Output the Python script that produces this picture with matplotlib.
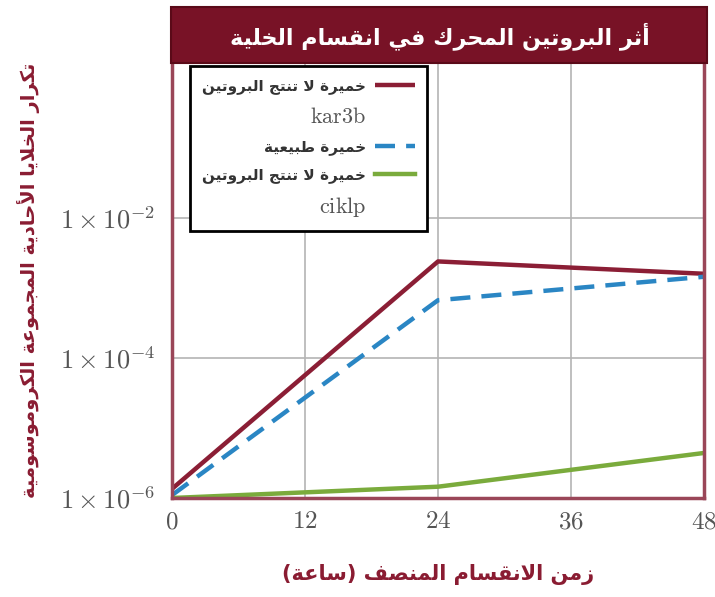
import matplotlib
matplotlib.use('Agg')
import matplotlib.pyplot as plt
from matplotlib.lines import Line2D
from matplotlib.patches import Rectangle

# Data
hours = [0, 24, 48]
kar3b = [1.35e-6, 2.4e-3, 1.6e-3]
wild_type = [1.1e-6, 6.7e-4, 1.45e-3]
cik1p = [1.0e-6, 1.45e-6, 4.4e-6]

x_ticks = [0, 12, 24, 36, 48]
y_ticks = [1e-6, 1e-4, 1e-2]
y_tick_labels = [r'$1\times10^{-6}$', r'$1\times10^{-4}$', r'$1\times10^{-2}$']

title_text = 'أثر البروتين المحرك في انقسام الخلية'
x_label = 'زمن الانقسام المنصف (ساعة)'
y_label = 'تكرار الخلايا الأحادية المجموعة الكروموسومية'
legend_labels = ['خميرة لا تنتج البروتين', 'خميرة طبيعية', 'خميرة لا تنتج البروتين']
legend_genes = ['kar3b', None, 'ciklp']

# Arabic letters -> (first presentation form, number of forms)
ARABIC = {
    'ء': (0xFE80, 1), 'آ': (0xFE81, 2), 'أ': (0xFE83, 2), 'ؤ': (0xFE85, 2),
    'إ': (0xFE87, 2), 'ئ': (0xFE89, 4), 'ا': (0xFE8D, 2), 'ب': (0xFE8F, 4),
    'ة': (0xFE93, 2), 'ت': (0xFE95, 4), 'ث': (0xFE99, 4), 'ج': (0xFE9D, 4),
    'ح': (0xFEA1, 4), 'خ': (0xFEA5, 4), 'د': (0xFEA9, 2), 'ذ': (0xFEAB, 2),
    'ر': (0xFEAD, 2), 'ز': (0xFEAF, 2), 'س': (0xFEB1, 4), 'ش': (0xFEB5, 4),
    'ص': (0xFEB9, 4), 'ض': (0xFEBD, 4), 'ط': (0xFEC1, 4), 'ظ': (0xFEC5, 4),
    'ع': (0xFEC9, 4), 'غ': (0xFECD, 4), 'ف': (0xFED1, 4), 'ق': (0xFED5, 4),
    'ك': (0xFED9, 4), 'ل': (0xFEDD, 4), 'م': (0xFEE1, 4), 'ن': (0xFEE5, 4),
    'ه': (0xFEE9, 4), 'و': (0xFEED, 2), 'ى': (0xFEEF, 2), 'ي': (0xFEF1, 4),
}
LAM_ALEF = {'ا': 0xFEFB, 'أ': 0xFEF7, 'آ': 0xFEF5, 'إ': 0xFEF9}


def shape(text):
    # matplotlib does no Arabic shaping, so pick the joined forms by hand
    # and reverse the string for left-to-right drawing
    out = []
    i = 0
    while i < len(text):
        c = text[i]
        if c not in ARABIC:
            out.append({'(': ')', ')': '('}.get(c, c))
            i += 1
            continue
        prev = text[i - 1] if i > 0 else ''
        joins_prev = prev in ARABIC and ARABIC[prev][1] == 4
        nxt = text[i + 1] if i + 1 < len(text) else ''
        if c == 'ل' and nxt in LAM_ALEF:
            out.append(chr(LAM_ALEF[nxt] + int(joins_prev)))
            i += 2
            continue
        base, n = ARABIC[c]
        joins_next = n == 4 and nxt in ARABIC
        if n == 1:
            form = 0
        elif joins_prev and joins_next:
            form = 3
        elif joins_next:
            form = 2
        elif joins_prev:
            form = 1
        else:
            form = 0
        out.append(chr(base + form))
        i += 1
    return ''.join(reversed(out))


plt.rcParams['font.family'] = ['DejaVu Sans']
plt.rcParams['mathtext.fontset'] = 'cm'

maroon = '#8a1c32'
fig = plt.figure(figsize=(7.15, 5.97), dpi=100)
ax = fig.add_axes([172 / 715, 1 - 498 / 597, 532 / 715, (498 - 62) / 597])

lines = []
lines += ax.plot(hours, kar3b, color='#8b1e35', lw=3.2, solid_capstyle='butt')
lines += ax.plot(hours, wild_type, color='#2a86c4', lw=3.2, linestyle=(0, (4.5, 2.5)))
lines += ax.plot(hours, cik1p, color='#7aab3c', lw=3.2)

ax.set_yscale('log')
ax.set_xlim(0, 48)
ax.set_ylim(1e-6, 10 ** 0.23)
ax.set_xticks(x_ticks)
ax.set_xticklabels([rf'$\mathrm{{{t}}}$' for t in x_ticks])
ax.set_yticks(y_ticks)
ax.set_yticklabels(y_tick_labels)
ax.yaxis.set_minor_locator(matplotlib.ticker.NullLocator())
ax.tick_params(length=0, labelsize=19, labelcolor='#555555')
ax.tick_params(axis='x', labelsize=18, pad=8)
ax.tick_params(axis='y', pad=12)
ax.grid(True, color='#b4b4b4', lw=1.2)

for side in ['left', 'right', 'bottom']:
    ax.spines[side].set_color('#9a4658')
    ax.spines[side].set_linewidth(2.5)
ax.spines['top'].set_visible(False)

ax.set_xlabel(shape(x_label), fontsize=15, fontweight='bold', color=maroon, labelpad=22)
ax.set_ylabel(shape(y_label), fontsize=14, fontweight='bold', color=maroon, labelpad=14)

# title bar on top of the plot
fig.patches.append(Rectangle((171 / 715, 1 - 63 / 597), 536 / 715, 56 / 597,
                             transform=fig.transFigure, facecolor='#781226',
                             edgecolor='#5a0a18', lw=1.5))
fig.text(440 / 715, 1 - 36 / 597, shape(title_text), color='white', fontsize=16,
         fontweight='bold', ha='center', va='center')

# gene names go on their own legend rows, with an empty handle
handles, labels, is_gene = [], [], []
for line, text, gene in zip(lines, legend_labels, legend_genes):
    handles.append(line)
    labels.append(shape(text))
    is_gene.append(False)
    if gene:
        handles.append(Line2D([], [], linestyle='none'))
        labels.append(rf'$\mathrm{{{gene}}}$')
        is_gene.append(True)

leg = ax.legend(handles, labels, loc='upper left', bbox_to_anchor=(0.034, 0.99),
                borderaxespad=0, markerfirst=False, fancybox=False, framealpha=1,
                edgecolor='black', prop={'size': 11, 'weight': 'bold'},
                handlelength=2.6, labelspacing=0.8, borderpad=0.8, handletextpad=0.6)
leg.get_frame().set_linewidth(2)
for t, gene in zip(leg.get_texts(), is_gene):
    t.set_color('#333333')
    if gene:
        t.set_fontsize(16)
        t.set_color('#555555')

fig.savefig('out.png', dpi=100)
